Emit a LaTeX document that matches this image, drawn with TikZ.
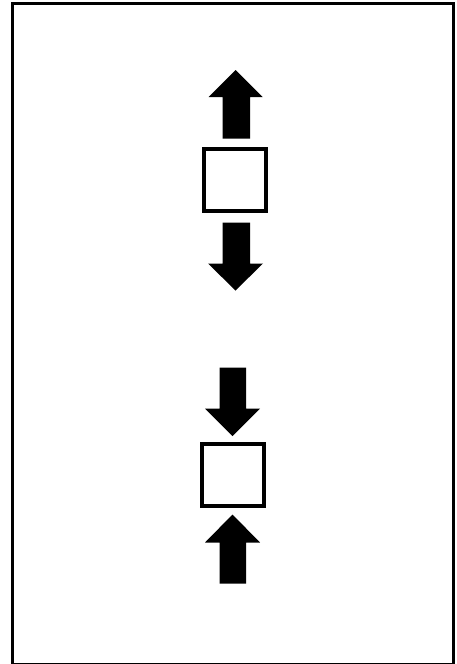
\documentclass[tikz,border=0pt]{standalone}
\begin{document}
\begin{tikzpicture}[x=1pt,y=-1pt,
  box/.style={draw=black,line width=4pt,fill=white,minimum width=62pt,minimum height=62pt,inner sep=0pt},
  arr/.style={fill=black,draw=none}]
\useasboundingbox (0,0) rectangle (457,664);
\draw[line width=2.5pt] (12.25,3.25) rectangle (453.5,664);
% top group
\node[box] (sq1) at (235,180) {};
\fill[arr] (235.5,70) -- (262.5,97) -- (250,97) -- (250,138.5) -- (222.5,138.5) -- (222.5,97) -- (208.5,97) -- cycle;
\fill[arr] (222.5,222.5) -- (250,222.5) -- (250,263.5) -- (263,263.5) -- (235.5,290.5) -- (208,263.5) -- (222.5,263.5) -- cycle;
% bottom group
\node[box] (sq2) at (232.75,474.75) {};
\fill[arr] (219.5,367.5) -- (246,367.5) -- (246,408.5) -- (260,408.5) -- (232.5,436) -- (205,408.5) -- (219.5,408.5) -- cycle;
\fill[arr] (232.5,514.5) -- (260,542.5) -- (246,542.5) -- (246,583.5) -- (219.5,583.5) -- (219.5,542.5) -- (205,542.5) -- cycle;
\end{tikzpicture}
\end{document}
